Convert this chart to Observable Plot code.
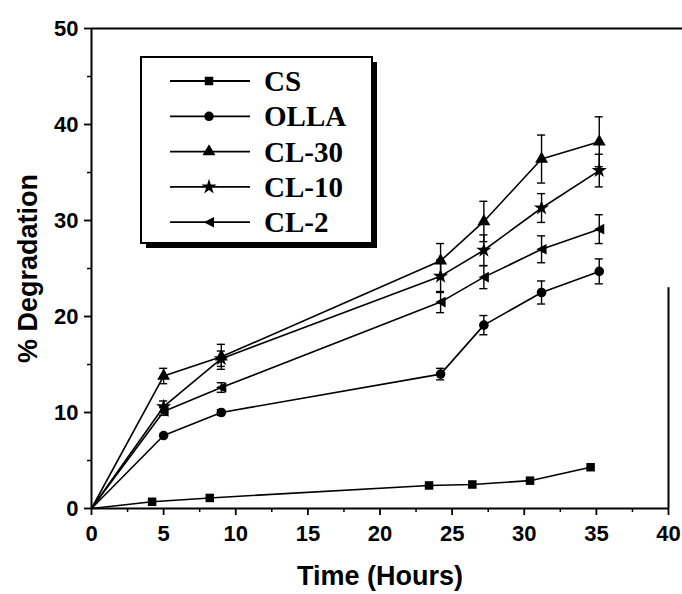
<!DOCTYPE html>
<html>
<head>
<meta charset="utf-8">
<script src="https://cdn.jsdelivr.net/npm/d3@7"></script>
<script src="https://cdn.jsdelivr.net/npm/@observablehq/plot@0.6"></script>
<style>
  html, body { margin: 0; padding: 0; background: #fff; }
  #chart { width: 682px; height: 594px; }
</style>
</head>
<body>
<div id="chart"></div>
<script>
// ---- data ----
const series = ["CS", "OLLA", "CL-30", "CL-10", "CL-2"];
const timesMain = [0, 5, 9, 24.2, 27.2, 31.2, 35.2];
const timesCS   = [0, 4.2, 8.2, 23.4, 26.4, 30.4, 34.6];
const valCS   = [0, 0.7, 1.1, 2.4, 2.5, 2.9, 4.3];
const valOLLA = [0, 7.6, 10.0, 14.0, 19.1, 22.5, 24.7];
const valCL30 = [0, 13.8, 15.8, 25.8, 29.9, 36.4, 38.2];
const valCL10 = [0, 10.6, 15.6, 24.2, 26.9, 31.3, 35.2];
const valCL2  = [0, 10.1, 12.6, 21.5, 24.1, 27.0, 29.1];
const errCS   = [0, 0, 0, 0, 0, 0, 0];
const errOLLA = [0, 0, 0.3, 0.6, 1.0, 1.2, 1.3];
const errCL30 = [0, 0.8, 1.3, 1.8, 2.1, 2.5, 2.6];
const errCL10 = [0, 0.6, 0.8, 1.7, 1.6, 1.5, 1.7];
const errCL2  = [0, 0.4, 0.5, 1.1, 1.2, 1.4, 1.5];
const xTicks = [0, 5, 10, 15, 20, 25, 30, 35, 40];
const xMinor = [2.5, 7.5, 12.5, 17.5, 22.5, 27.5, 32.5, 37.5];
const yTicks = [0, 10, 20, 30, 40, 50];
const yMinor = [5, 15, 25, 35, 45];

const seriesTimes  = [timesCS, timesMain, timesMain, timesMain, timesMain];
const seriesValues = [valCS, valOLLA, valCL30, valCL10, valCL2];
const seriesErrors = [errCS, errOLLA, errCL30, errCL10, errCL2];

// left-pointing triangle symbol
const triangleLeft = {
  draw(context, size) {
    const s = Math.sqrt(size) * 0.62;
    context.moveTo(-s, 0);
    context.lineTo(s * 0.95, -s);
    context.lineTo(s * 0.95, s);
    context.closePath();
  }
};
const symbols = [d3.symbolSquare, d3.symbolCircle, d3.symbolTriangle, d3.symbolStar, triangleLeft];

const rows = [];
series.forEach((name, i) => {
  seriesTimes[i].forEach((t, j) => {
    rows.push({series: name, t, v: seriesValues[i][j], e: seriesErrors[i][j]});
  });
});
const markerRows = rows.filter(d => d.t > 0);
const errRows = rows.filter(d => d.e > 0);
const cap = 0.28;

const axisFont = 22;
const chart = Plot.plot({
  width: 682,
  height: 594,
  marginLeft: 91,
  marginRight: 14,
  marginTop: 28,
  marginBottom: 86,
  x: {domain: [0, 40]},
  y: {domain: [0, 50]},
  symbol: {domain: series, range: symbols},
  style: {fontFamily: "'Liberation Sans', Arial, sans-serif", fontWeight: "bold", background: "white", color: "black"},
  marks: [
    Plot.axisX({ticks: xTicks, tickSize: 7, tickPadding: 10, fontSize: axisFont, label: null, strokeWidth: 1.8}),
    Plot.axisX({ticks: xMinor, tickSize: 4, tickFormat: () => "", label: null, strokeWidth: 1.5}),
    Plot.axisX({ticks: [], label: "Time (Hours)", labelAnchor: "center", labelArrow: "none", labelOffset: 76, fontSize: 27}),
    Plot.axisY({ticks: yTicks, tickSize: 7, tickPadding: 6, fontSize: axisFont, label: null, strokeWidth: 1.8}),
    Plot.axisY({ticks: yMinor, tickSize: 4, tickFormat: () => "", label: null, strokeWidth: 1.5}),
    Plot.axisY({ticks: [], label: "% Degradation", labelAnchor: "center", labelArrow: "none", labelOffset: 74, fontSize: 27}),
    Plot.ruleY([0], {strokeWidth: 2}),
    Plot.ruleX([0], {strokeWidth: 2}),
    Plot.ruleY([50], {x1: 0, x2: 41, strokeWidth: 2}),
    Plot.ruleX([40], {y1: 0, y2: 23, strokeWidth: 2}),
    Plot.line(rows, {x: "t", y: "v", z: "series", stroke: "black", strokeWidth: 1.6}),
    Plot.ruleX(errRows, {x: "t", y1: d => d.v - d.e, y2: d => d.v + d.e, strokeWidth: 1.4}),
    Plot.ruleY(errRows, {y: d => d.v + d.e, x1: d => d.t - cap, x2: d => d.t + cap, strokeWidth: 1.4}),
    Plot.ruleY(errRows, {y: d => d.v - d.e, x1: d => d.t - cap, x2: d => d.t + cap, strokeWidth: 1.4}),
    Plot.dot(markerRows, {x: "t", y: "v", symbol: "series", fill: "black", stroke: "none", r: 4.8})
  ]
});
document.getElementById("chart").appendChild(chart);

// ---- legend box drawn into the same svg ----
const svg = d3.select(chart);
const lg = svg.append("g").attr("class", "legend").attr("text-anchor", "start");
const box = {x: 141, y: 57, w: 231, h: 186, shadow: 5};
lg.append("rect").attr("x", box.x + box.shadow).attr("y", box.y + box.shadow)
  .attr("width", box.w).attr("height", box.h).attr("fill", "black");
lg.append("rect").attr("x", box.x).attr("y", box.y)
  .attr("width", box.w).attr("height", box.h).attr("fill", "white")
  .attr("stroke", "black").attr("stroke-width", 2);
series.forEach((name, i) => {
  const cy = 81 + i * 35.3;
  lg.append("line").attr("x1", 170).attr("x2", 250).attr("y1", cy).attr("y2", cy)
    .attr("stroke", "black").attr("stroke-width", 1.8);
  lg.append("path").attr("transform", `translate(209,${cy})`)
    .attr("d", d3.symbol(symbols[i], Math.PI * 4.8 * 4.8)()).attr("fill", "black");
  lg.append("text").attr("x", 264).attr("y", cy).attr("dy", "0.35em")
    .attr("text-anchor", "start")
    .attr("font-family", "'Liberation Serif', 'Times New Roman', serif")
    .attr("font-weight", "bold").attr("font-size", 29).attr("fill", "black")
    .text(name);
});
</script>
</body>
</html>
